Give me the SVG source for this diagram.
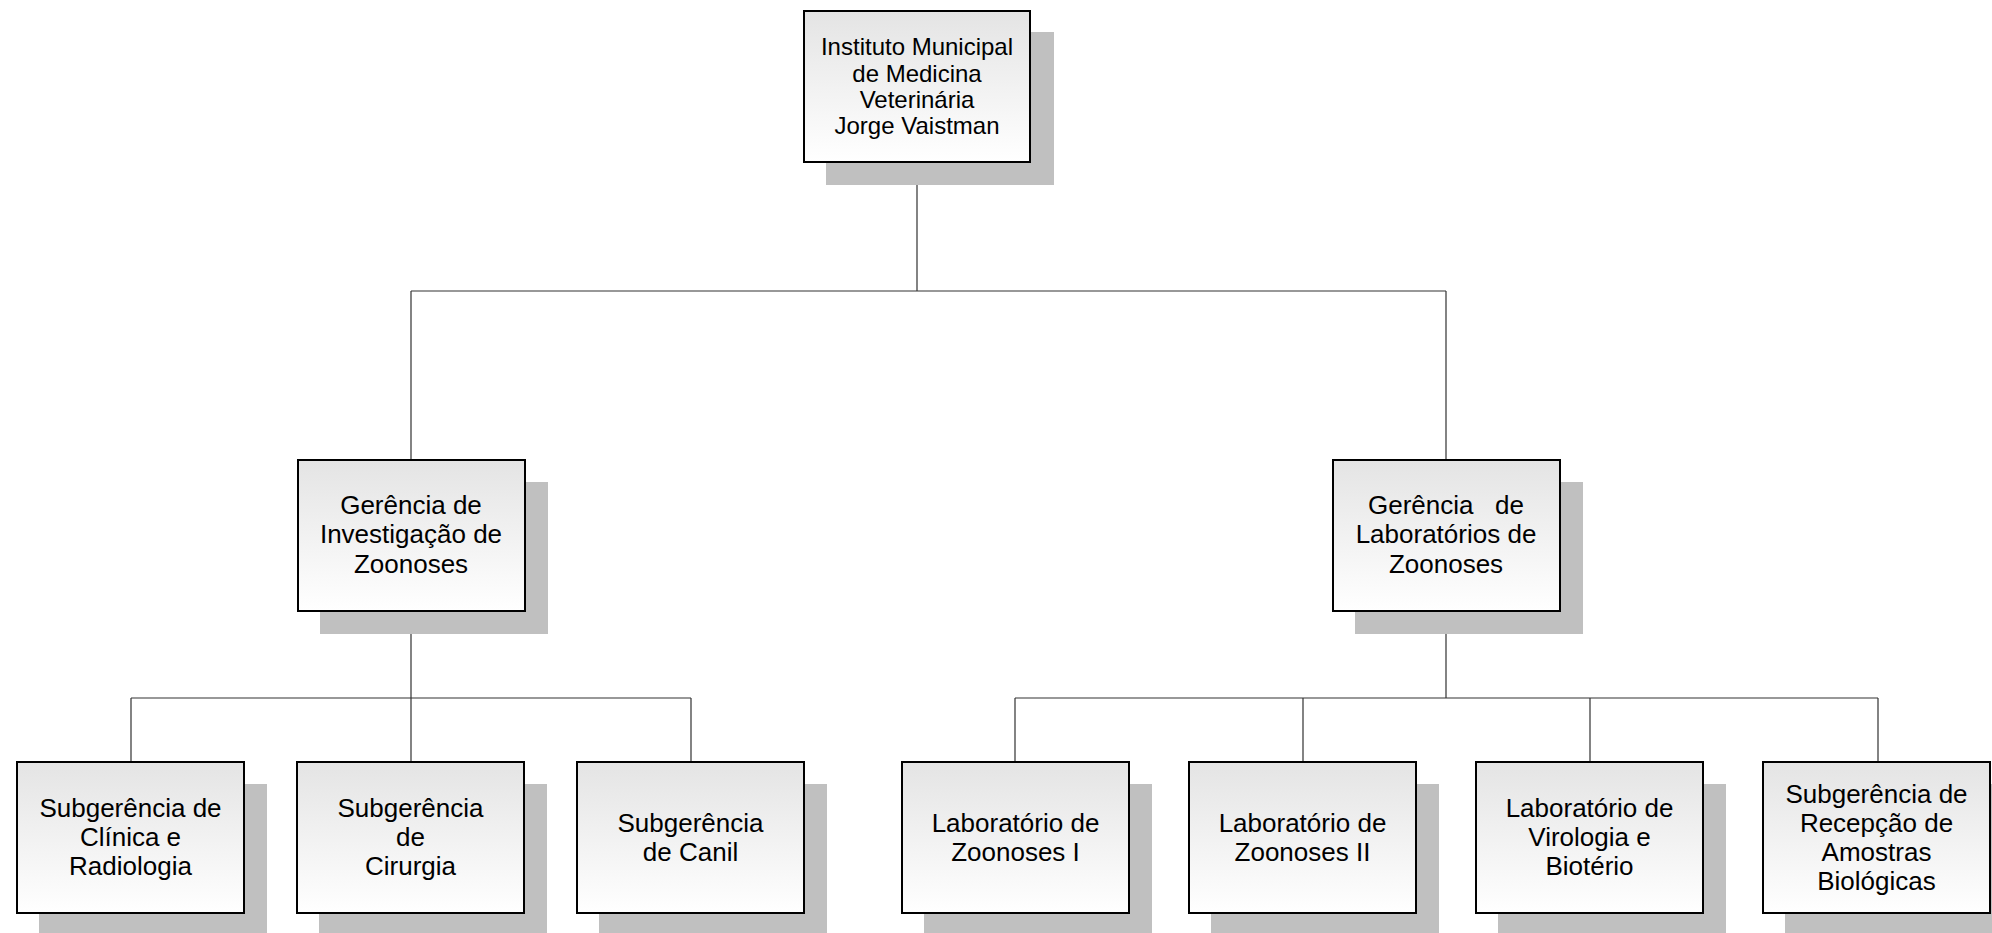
<svg xmlns="http://www.w3.org/2000/svg" width="1992" height="933" viewBox="0 0 1992 933">
<defs>
<linearGradient id="g" x1="0" y1="0" x2="0" y2="1">
<stop offset="0" stop-color="#e4e4e4"/>
<stop offset="1" stop-color="#ffffff"/>
</linearGradient>
</defs>
<style>
.sh{fill:#c0c0c0}
.bx{fill:url(#g);stroke:#000;stroke-width:2}
.t{font-family:"Liberation Sans",Arial,sans-serif;font-size:26px;fill:#000;text-anchor:middle;white-space:pre}
.t1{font-size:24px}
.c{fill:none;stroke:#333;stroke-width:1.2}
</style>
<rect width="1992" height="933" fill="#fff"/>
<g id="connectors">
<path class="c" d="M917 162V291M411 291H1446M411 291V460M1446 291V460"/>
<path class="c" d="M411 611V698M131 698H691M131 698V762M411 698V762M691 698V762"/>
<path class="c" d="M1446 611V698M1015 698H1878M1015 698V762M1303 698V762M1590 698V762M1878 698V762"/>
</g>
<g id="n0">
<rect class="sh" x="826" y="32" width="228" height="153"/>
<rect class="bx" x="804" y="11" width="226" height="151"/>
<text class="t t1" x="917"><tspan x="917" y="55">Instituto Municipal</tspan><tspan x="917" y="81.5">de Medicina</tspan><tspan x="917" y="108">Veterinária</tspan><tspan x="917" y="134">Jorge Vaistman</tspan></text>
</g>
<g id="n1">
<rect class="sh" x="320" y="482" width="228" height="152"/>
<rect class="bx" x="298" y="460" width="227" height="151"/>
<text class="t" x="411"><tspan x="411" y="514">Gerência de</tspan><tspan x="411" y="543.3">Investigação de</tspan><tspan x="411" y="572.7">Zoonoses</tspan></text>
</g>
<g id="n2">
<rect class="sh" x="1355" y="482" width="228" height="152"/>
<rect class="bx" x="1333" y="460" width="227" height="151"/>
<text class="t" x="1446"><tspan x="1446" y="514">Gerência   de</tspan><tspan x="1446" y="543.3">Laboratórios de</tspan><tspan x="1446" y="572.7">Zoonoses</tspan></text>
</g>
<g id="n3">
<rect class="sh" x="39" y="784" width="228" height="152"/>
<rect class="bx" x="17" y="762" width="227" height="151"/>
<text class="t"><tspan x="130.5" y="816.7">Subgerência de</tspan><tspan x="130.5" y="846">Clínica e</tspan><tspan x="130.5" y="875.3">Radiologia</tspan></text>
</g>
<g id="n4">
<rect class="sh" x="319" y="784" width="228" height="152"/>
<rect class="bx" x="297" y="762" width="227" height="151"/>
<text class="t"><tspan x="410.5" y="816.7">Subgerência</tspan><tspan x="410.5" y="846">de</tspan><tspan x="410.5" y="875.3">Cirurgia</tspan></text>
</g>
<g id="n5">
<rect class="sh" x="599" y="784" width="228" height="152"/>
<rect class="bx" x="577" y="762" width="227" height="151"/>
<text class="t"><tspan x="690.5" y="831.7">Subgerência</tspan><tspan x="690.5" y="861">de Canil</tspan></text>
</g>
<g id="n6">
<rect class="sh" x="924" y="784" width="228" height="152"/>
<rect class="bx" x="902" y="762" width="227" height="151"/>
<text class="t"><tspan x="1015.5" y="831.7">Laboratório de</tspan><tspan x="1015.5" y="861">Zoonoses I</tspan></text>
</g>
<g id="n7">
<rect class="sh" x="1211" y="784" width="228" height="152"/>
<rect class="bx" x="1189" y="762" width="227" height="151"/>
<text class="t"><tspan x="1302.5" y="831.7">Laboratório de</tspan><tspan x="1302.5" y="861">Zoonoses II</tspan></text>
</g>
<g id="n8">
<rect class="sh" x="1498" y="784" width="228" height="152"/>
<rect class="bx" x="1476" y="762" width="227" height="151"/>
<text class="t"><tspan x="1589.5" y="816.7">Laboratório de</tspan><tspan x="1589.5" y="846">Virologia e</tspan><tspan x="1589.5" y="875.3">Biotério</tspan></text>
</g>
<g id="n9">
<rect class="sh" x="1785" y="784" width="228" height="152"/>
<rect class="bx" x="1763" y="762" width="227" height="151"/>
<text class="t"><tspan x="1876.5" y="802.7">Subgerência de</tspan><tspan x="1876.5" y="831.7">Recepção de</tspan><tspan x="1876.5" y="860.7">Amostras</tspan><tspan x="1876.5" y="889.7">Biológicas</tspan></text>
</g>
</svg>
